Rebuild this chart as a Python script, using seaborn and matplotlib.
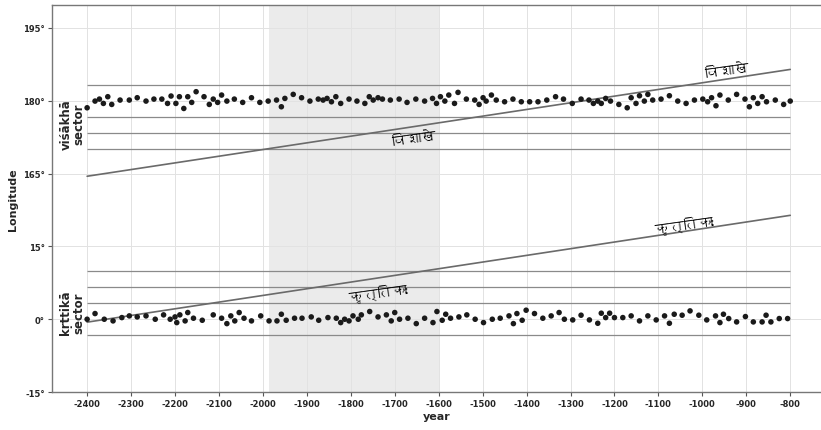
import matplotlib
matplotlib.use("Agg")
import matplotlib.pyplot as plt
import seaborn as sns
import pandas as pd
from matplotlib import font_manager, ft2font

# ---------------- data ----------------
vis_years = [-2400, -2382, -2372, -2363, -2353, -2344, -2325, -2304, -2286, -2266,
             -2248, -2230, -2217, -2209, -2198, -2190, -2180, -2171, -2162, -2152,
             -2134, -2122, -2113, -2103, -2094, -2082, -2065, -2046, -2026, -2007,
             -1988, -1969, -1958, -1950, -1931, -1912, -1893, -1874,
             -1863, -1854, -1844, -1834, -1823, -1804, -1786, -1768, -1758, -1749,
             -1738, -1728, -1710, -1690, -1672, -1652, -1632, -1614, -1605, -1596,
             -1586, -1577, -1564, -1556, -1537, -1518, -1508, -1499, -1492, -1480,
             -1469, -1450, -1431, -1412, -1393, -1374, -1354, -1334,
             -1316, -1296, -1276, -1258, -1248, -1238, -1230, -1220, -1209, -1190,
             -1171, -1162, -1151, -1143, -1132, -1124, -1113, -1094, -1075, -1056,
             -1037, -1018, -999, -988, -979, -969, -960, -941, -922, -903,
             -893, -884, -874, -864, -854, -834, -815, -800]
vis_lon = [178.55, 179.93, 180.34, 179.45, 180.83, 179.24, 180.14, 180.14, 180.62, 179.93,
           180.34, 180.34, 179.45, 180.97, 179.45, 180.83, 178.41, 180.83, 179.66, 181.86,
           180.83, 179.24, 180.34, 179.66, 181.17, 179.93, 180.34, 179.66, 180.62, 179.66,
           179.93, 180.14, 178.76, 180.48, 181.31, 180.62, 179.93, 180.34,
           180.14, 180.48, 179.79, 180.83, 179.45, 180.34, 179.93, 179.45, 180.83, 180.14,
           180.62, 180.34, 180.14, 180.34, 179.66, 180.34, 179.93, 180.48, 179.45, 180.83,
           179.93, 181.17, 179.45, 181.72, 180.34, 180.14, 179.24, 180.62, 179.93, 181.17,
           180.14, 179.79, 180.34, 179.79, 179.79, 179.79, 180.14, 180.83,
           180.34, 179.45, 180.34, 180.14, 179.45, 179.93, 179.45, 180.48, 179.93, 179.24,
           178.55, 180.62, 179.45, 181.03, 179.93, 181.31, 180.14, 180.34, 181.03, 179.93,
           179.45, 180.14, 180.34, 179.79, 180.62, 178.97, 181.17, 180.14, 181.31, 180.34,
           178.76, 180.62, 179.45, 180.83, 179.79, 180.14, 179.24, 179.93]

kri_years = [-2400, -2382, -2361, -2341, -2321, -2304, -2286, -2266, -2245, -2226,
             -2211, -2200, -2196, -2189, -2177, -2171, -2158, -2138, -2113, -2094,
             -2082, -2073, -2064, -2054, -2043, -2026, -2005, -1986, -1968, -1958,
             -1947, -1928, -1911, -1890, -1873,
             -1852, -1833, -1823, -1814, -1804, -1795, -1783, -1776, -1757, -1738,
             -1719, -1708, -1700, -1689, -1670, -1651, -1632, -1613, -1604, -1592,
             -1584, -1573, -1554, -1536, -1517, -1498, -1478, -1460, -1440, -1430,
             -1422, -1410, -1401, -1382, -1363, -1344, -1326,
             -1314, -1295, -1276, -1257, -1238, -1230, -1220, -1211, -1200, -1181,
             -1162, -1143, -1124, -1105, -1086, -1075, -1064, -1046, -1028, -1008,
             -990, -970, -960, -952, -940, -922, -902, -884, -864, -855,
             -844, -825, -806]
kri_lon = [0.00, 1.17, 0.00, -0.34, 0.34, 0.69, 0.48, 0.69, 0.00, 0.90,
           0.00, 0.48, -0.69, 0.90, -0.34, 1.38, 0.21, -0.21, 0.90, 0.21,
           -0.90, 0.69, -0.34, 1.38, 0.21, -0.34, 0.69, -0.34, -0.34, 1.03,
           -0.21, 0.21, 0.21, 0.48, -0.21,
           0.34, 0.21, -0.69, 0.00, -0.34, 0.69, 0.00, 0.90, 1.59, 0.48,
           0.90, -0.34, 1.38, 0.00, 0.21, -0.90, 0.21, -0.69, 1.59, -0.21,
           1.03, 0.21, 0.48, 0.90, 0.00, -0.69, 0.00, 0.21, 0.69, -0.90,
           1.17, -0.21, 1.86, 1.17, 0.21, 0.69, 1.38,
           0.00, -0.14, 0.83, -0.14, -0.83, 1.24, 0.34, 1.24, 0.34, 0.34,
           0.69, -0.34, 0.69, -0.14, 0.69, -0.83, 1.03, 0.83, 1.72, 0.83,
           -0.14, 0.69, -0.69, 1.03, 0.14, -0.55, 0.55, -0.55, -0.55, 0.83,
           -0.55, 0.14, 0.14]

line_years = [-2400, -800]
vis_star_line = [164.45, 186.45]
kri_star_line = [-0.6, 21.4]

vis_sector_lines = [170.0, 173.33, 176.67, 183.33]
kri_sector_lines = [-3.33, 3.33, 6.67, 10.0]

span_years = [-1985, -1600]

ytick_pos = [-15, 0, 15, 30, 45, 60]
ytick_labels = ["-15°", "0°", "15°", "165°", "180°", "195°"]
xtick_years = list(range(-2400, -700, 100))

OFFSET = 135  # viśākhā longitudes are drawn shifted down by this amount

# ---------------- fonts ----------------
def find_family(ch):
    for f in font_manager.fontManager.ttflist:
        try:
            cmap = ft2font.FT2Font(f.fname).get_charmap()
        except Exception:
            continue
        if ord(ch) in cmap:
            return f.name
    return None

sns.set_theme(style="whitegrid")
deva = find_family("व")
fams = ["DejaVu Sans"]
if deva:
    fams = [deva, "DejaVu Sans"]
plt.rcParams["font.family"] = ["DejaVu Sans"]

# ---------------- figure ----------------
fig = plt.figure(figsize=(8.21, 4.31), dpi=100)
ax = fig.add_axes([0.0633, 0.088, 0.9367, 0.899])

ax.axvspan(span_years[0], span_years[1], color="#ebebeb", zorder=0, lw=0)

for y in vis_sector_lines:
    ax.hlines(y - OFFSET, line_years[0], line_years[1], color="#8a8a8a", lw=0.9, zorder=2)
for y in kri_sector_lines:
    ax.hlines(y, line_years[0], line_years[1], color="#8a8a8a", lw=0.9, zorder=2)

df_lines = pd.DataFrame({
    "year": line_years + line_years,
    "lon": [v - OFFSET for v in vis_star_line] + kri_star_line,
    "star": ["vis", "vis", "kri", "kri"],
})
sns.lineplot(data=df_lines, x="year", y="lon", units="star", estimator=None,
             color="#6a6a6a", lw=1.2, ax=ax, zorder=3)

df_pts = pd.DataFrame({
    "year": vis_years + kri_years,
    "lon": [v - OFFSET for v in vis_lon] + kri_lon,
})
sns.scatterplot(data=df_pts, x="year", y="lon", color="#1a1a1a", s=16,
                edgecolor="none", ax=ax, zorder=4)

ax.set_xlim(-2480, -730)
ax.set_ylim(-15, 64.8)
ax.set_xticks(xtick_years)
ax.set_xticklabels([str(v) for v in xtick_years], fontsize=6, fontweight="bold")
ax.set_yticks(ytick_pos)
ax.set_yticklabels(ytick_labels, fontsize=6, fontweight="bold")
ax.tick_params(axis="both", length=3, width=0.8, color="#555555", pad=2, bottom=True, left=True)
ax.grid(True, color="#e2e2e2", lw=0.7)
for sp in ax.spines.values():
    sp.set_color("#777777")
    sp.set_linewidth(1.0)
ax.spines["right"].set_visible(False)

ax.set_xlabel("year", fontsize=8, fontweight="bold", labelpad=2)
ax.set_ylabel("Longitude", fontsize=8, fontweight="bold", labelpad=4)

# sector labels
ax.text(-2434, 40.3, "viśākhā\nsector", rotation=90, ha="center", va="center",
        fontsize=8.5, fontweight="bold", linespacing=0.95, zorder=5)
ax.text(-2434, 1.5, "kṛttikā\nsector", rotation=90, ha="center", va="center",
        fontsize=8.5, fontweight="bold", linespacing=0.95, zorder=5)

# star labels
ax.text(-1655, 172.1 - OFFSET, "विशाखे", rotation=8, ha="center", va="center",
        fontsize=10.5, fontweight="bold", color="black", family=fams, zorder=5)
ax.text(-943, 186.2 - OFFSET, "विशाखे", rotation=8, ha="center", va="center",
        fontsize=10.5, fontweight="bold", color="black", family=fams, zorder=5)
ax.text(-1041, 19.8, "कृत्तिकाः", rotation=8, ha="center", va="center",
        fontsize=10.5, fontweight="bold", color="black", family=fams, zorder=5)
ax.text(-1739, 5.8, "कृत्तिकाः", rotation=8, ha="center", va="center",
        fontsize=10.5, fontweight="bold", color="black", family=fams, zorder=5)

fig.savefig("out.png", dpi=100)
